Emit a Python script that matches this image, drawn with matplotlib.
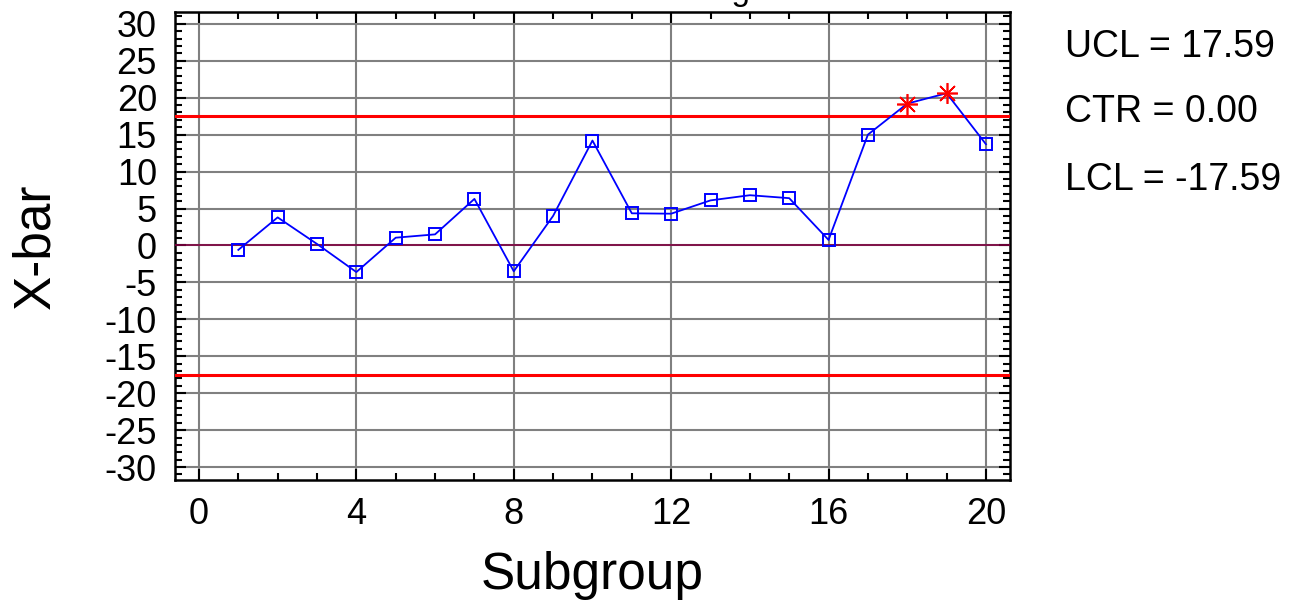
#! /usr/bin/env python3

"""X-bar control chart with UCL / CTR / LCL limits"""

import matplotlib
matplotlib.use('Agg')
import matplotlib.pyplot as plt
from matplotlib.ticker import MultipleLocator

plt.rcParams['font.family'] = ['Liberation Sans', 'DejaVu Sans']
plt.rcParams['axes.unicode_minus'] = False

# Subgroup means
subgroups = list(range(1, 21))
xbar = [-0.6, 3.8, 0.2, -3.6, 1.05, 1.5, 6.3, -3.5, 4.0, 14.2,
        4.35, 4.3, 6.1, 6.8, 6.4, 0.75, 15.0, 19.2, 20.6, 13.7]

ucl = 17.59
ctr = 0.00
lcl = -17.59

fig = plt.figure(figsize=(12.94, 6.09), dpi=100)
ax = fig.add_axes([0.1352, 0.2118, 0.6453, 0.7685])

ax.axhline(ucl, color='#ff0000', lw=2.2, zorder=3)
ax.axhline(lcl, color='#ff0000', lw=2.2, zorder=3)
ax.axhline(ctr, color='#800040', lw=1.2, zorder=3)

ax.plot(subgroups, xbar, color='#0000ff', lw=1.3, zorder=4)

# in-control points as squares, out-of-control as red asterisks
inx = [s for s, v in zip(subgroups, xbar) if lcl <= v <= ucl]
iny = [v for v in xbar if lcl <= v <= ucl]
outx = [s for s, v in zip(subgroups, xbar) if not lcl <= v <= ucl]
outy = [v for v in xbar if not lcl <= v <= ucl]
ax.plot(inx, iny, ls='none', marker='s', ms=9, mfc='none', mec='#0000ff', mew=1.4, zorder=5)
ax.plot(outx, outy, ls='none', marker=(8, 2, 0), ms=15, mec='#ff0000', mew=1.2, zorder=5)

ax.set_xlim(-0.61, 20.61)
ax.set_ylim(-31.75, 31.6)
ax.xaxis.set_major_locator(MultipleLocator(4))
ax.xaxis.set_minor_locator(MultipleLocator(1))
ax.yaxis.set_major_locator(MultipleLocator(5))
ax.yaxis.set_minor_locator(MultipleLocator(1))

ax.grid(True, which='major', color='#808080', lw=1.5)
ax.set_axisbelow(True)

ax.tick_params(which='both', direction='in', top=True, right=True, width=1.5, labelsize=26)
ax.tick_params(axis='y', pad=13)
ax.tick_params(axis='x', pad=12)
ax.tick_params(which='major', length=8)
ax.tick_params(which='minor', length=5)
for sp in ax.spines.values():
    sp.set_linewidth(1.8)

ax.set_xlabel('Subgroup', fontsize=37, labelpad=14)
ax.set_ylabel('X-bar', fontsize=37, labelpad=32)

fig.text(0.473, 1.0, 'X-bar Chart for Length', fontsize=24, ha='center', va='baseline')

fig.text(0.823, 0.923, 'UCL = %.2f' % ucl, fontsize=27, va='center')
fig.text(0.823, 0.816, 'CTR = %.2f' % ctr, fontsize=27, va='center')
fig.text(0.823, 0.704, 'LCL = %.2f' % lcl, fontsize=27, va='center')

fig.savefig('out.png', dpi=100)
